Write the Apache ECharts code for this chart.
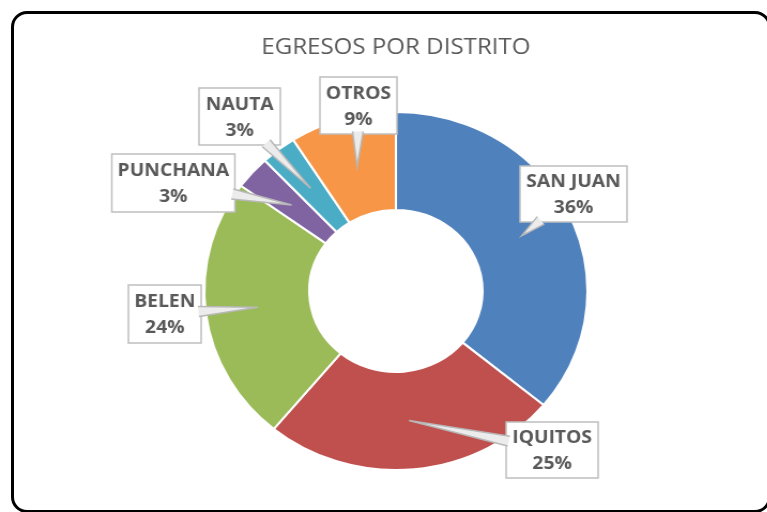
<!DOCTYPE html>
<html>
<head>
<meta charset="utf-8">
<script src="https://cdn.jsdelivr.net/npm/echarts@6/dist/echarts.min.js"></script>
<style>
  html, body { margin: 0; padding: 0; background: #fff; width: 767px; height: 512px; overflow: hidden; }
  #wrap { position: absolute; left: 0; top: 0; width: 767px; height: 512px; overflow: hidden; }
  #chart { position: absolute; left: 0; top: 0; width: 717px; height: 512px; transform: scaleX(1.07); transform-origin: 0 0; }
  #frame { position: absolute; left: 11px; top: 11px; width: 760px; height: 502px; box-sizing: border-box; border: 3px solid #000; border-radius: 16px; pointer-events: none; }
</style>
</head>
<body>
<div id="wrap">
  <div id="chart"></div>
  <div id="frame"></div>
</div>
<script>
// ---- data ----
const titleText = 'EGRESOS POR DISTRITO';
const categories = ['SAN JUAN', 'IQUITOS', 'BELEN', 'PUNCHANA', 'NAUTA', 'OTROS'];
const values = [36, 25, 24, 3, 3, 9];

// ---- styles / layout (chart space, before the 1.07 horizontal stretch) ----
const colors = ['#4F81BD', '#C0504D', '#9BBB59', '#8064A2', '#4BACC6', '#F79646'];
const center = [370, 291];
const radii = [81, 179];
const labelCenters = [[536, 194], [516, 450], [154, 314], [162, 183], [224, 116.5], [335, 105.5]];
const labelBoxes = [[100, 56], [86, 56], [68, 58], [115, 58], [76, 57], [72, 57]];

const total = values.reduce((a, b) => a + b, 0);
const cumStart = [];
values.reduce((acc, v, i) => { cumStart[i] = acc; return acc + v; }, 0);
const rMid = (radii[0] + radii[1]) / 2;

const chart = echarts.init(document.getElementById('chart'), null, { renderer: 'canvas', width: 717, height: 512 });

const data = categories.map((name, i) => ({
  name: name,
  value: values[i],
  itemStyle: { color: colors[i] }
}));

// callouts (wedge + box + text), computed from slice angles
const wedges = [], boxes = [], texts = [];
categories.forEach((name, i) => {
  const theta = 2 * Math.PI * (cumStart[i] + values[i] / 2) / total;
  const tip = [center[0] + rMid * Math.sin(theta), center[1] - rMid * Math.cos(theta)];
  const c = labelCenters[i];
  const hw = labelBoxes[i][0] / 2, hh = labelBoxes[i][1] / 2;
  const dx = tip[0] - c[0], dy = tip[1] - c[1];
  const len = Math.sqrt(dx * dx + dy * dy);
  const t = Math.min(dx !== 0 ? hw / Math.abs(dx) : Infinity, dy !== 0 ? hh / Math.abs(dy) : Infinity);
  const ux = dx / len, uy = dy / len;
  const e = [c[0] + dx * t - ux * 2.5, c[1] + dy * t - uy * 2.5];
  const nx = -uy, ny = ux, half = 5;
  const b1 = [e[0] + nx * half, e[1] + ny * half];
  const b2 = [e[0] - nx * half, e[1] - ny * half];
  boxes.push({
    type: 'rect', z: 100,
    shape: { x: c[0] - hw, y: c[1] - hh, width: hw * 2, height: hh * 2 },
    style: { fill: '#ffffff', stroke: '#bfbfbf', lineWidth: 1.5 }
  });
  wedges.push({
    type: 'polygon', z: 101,
    shape: { points: [b1, tip, b2] },
    style: { fill: '#ececec', stroke: null }
  });
  wedges.push({
    type: 'polyline', z: 101,
    shape: { points: [b1, tip, b2] },
    style: { stroke: '#b8b8b8', lineWidth: 1.5, fill: null }
  });
  const pct = Math.round(values[i] / total * 100) + '%';
  texts.push({
    type: 'text', z: 102,
    x: c[0], y: c[1] + 1,
    style: {
      text: name + '\n' + pct,
      fontFamily: 'Open Sans', fontWeight: 'bold', fontSize: 18, lineHeight: 26,
      fill: '#595959',
      align: 'center', verticalAlign: 'middle',
      textAlign: 'center', textVerticalAlign: 'middle'
    }
  });
});

chart.setOption({
  animation: false,
  backgroundColor: 'transparent',
  title: {
    text: titleText,
    left: 365,
    top: 31,
    textAlign: 'center',
    textStyle: { fontFamily: 'Open Sans', fontSize: 22.5, fontWeight: 'normal', color: '#595959' }
  },
  graphic: { elements: boxes.concat(wedges).concat(texts) },
  series: [{
    type: 'pie',
    center: center,
    radius: radii,
    startAngle: 90,
    clockwise: true,
    avoidLabelOverlap: false,
    itemStyle: { borderColor: '#ffffff', borderWidth: 2 },
    label: { show: false },
    labelLine: { show: false },
    data: data
  }]
});
</script>
</body>
</html>
